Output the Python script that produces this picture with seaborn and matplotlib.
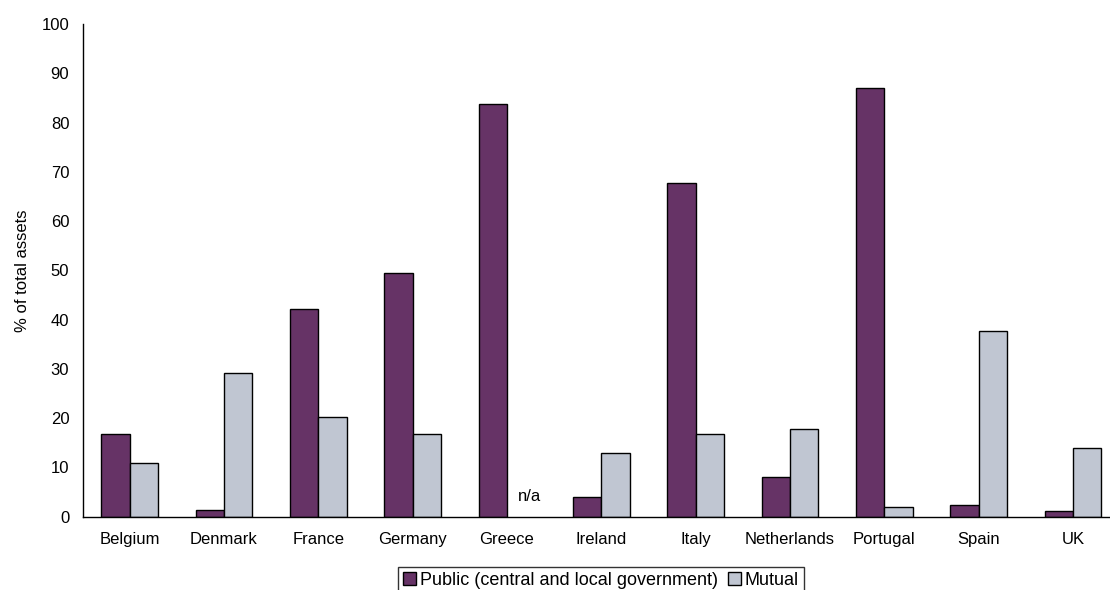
import numpy as np
import pandas as pd
import matplotlib
matplotlib.use("Agg")
import matplotlib.pyplot as plt
import seaborn as sns

countries = ["Belgium", "Denmark", "France", "Germany", "Greece", "Ireland",
             "Italy", "Netherlands", "Portugal", "Spain", "UK"]
public_vals = [16.8, 1.3, 42.2, 49.4, 83.7, 4.0, 67.8, 8.1, 87.1, 2.3, 1.1]
mutual_vals = [11.0, 29.2, 20.2, 16.7, np.nan, 12.9, 16.8, 17.7, 1.9, 37.7, 14.0]
series_names = ["Public (central and local government)", "Mutual"]
y_ticks = [0, 10, 20, 30, 40, 50, 60, 70, 80, 90, 100]
na_label = "n/a"

sns.set_style("white")
plt.rcParams["font.family"] = ["Liberation Sans", "DejaVu Sans"]
plt.rcParams.update({
    "text.color": "black",
    "axes.labelcolor": "black",
    "xtick.color": "black",
    "ytick.color": "black",
    "axes.edgecolor": "black",
})

df = pd.DataFrame({
    "country": countries * 2,
    "value": public_vals + mutual_vals,
    "series": [series_names[0]] * len(countries) + [series_names[1]] * len(countries),
})

W, H = 1110, 590
fig = plt.figure(figsize=(W / 100, H / 100), dpi=100)
ax = fig.add_axes([82.5 / W, 1 - 516.7 / H, (1120 - 82.5) / W, (516.7 - 24) / H])

sns.barplot(data=df, x="country", y="value", hue="series", order=countries,
            hue_order=series_names, palette=["#663366", "#C0C6D2"],
            width=0.6, gap=0, edgecolor="black", linewidth=1.0,
            saturation=1, errorbar=None, ax=ax, legend=True)

handles, labels = ax.get_legend_handles_labels()
ax.legend_.remove()

ax.set_xlim(-0.5, len(countries) - 0.5)
ax.set_ylim(0, 100)
ax.set_yticks(y_ticks)
ax.set_xlabel("")
ax.set_ylabel("% of total assets", fontsize=12, labelpad=8)

ax.set_xticks(range(len(countries)))
ax.set_xticklabels(countries, fontsize=12)
ax.set_xticks(np.arange(0.5, len(countries), 1.0), minor=True)
ax.tick_params(axis="x", which="major", length=0, pad=11)
ax.tick_params(axis="x", which="minor", length=4, width=1, color="black", direction="out")
ax.tick_params(axis="y", which="major", length=4.5, width=1, color="black",
               direction="out", pad=5, labelsize=12)

for s in ["top", "right"]:
    ax.spines[s].set_visible(False)
for s in ["left", "bottom"]:
    ax.spines[s].set_color("black")
    ax.spines[s].set_linewidth(1)

ax.text(4.24, 4.1, na_label, ha="center", va="center", fontsize=12)

leg = fig.legend(handles, labels, loc="upper center",
                 bbox_to_anchor=(601 / W, 1 - 566.7 / H), ncol=2,
                 fontsize=13, frameon=True, fancybox=False, shadow=False,
                 handlelength=0.7, handleheight=0.7, handletextpad=0.2,
                 columnspacing=0.6, borderpad=0.3, borderaxespad=0)
leg.get_frame().set_edgecolor("black")
leg.get_frame().set_linewidth(1)
for h in leg.legend_handles:
    h.set_edgecolor("black")
    h.set_linewidth(1)

fig.savefig("out.png", dpi=100)
